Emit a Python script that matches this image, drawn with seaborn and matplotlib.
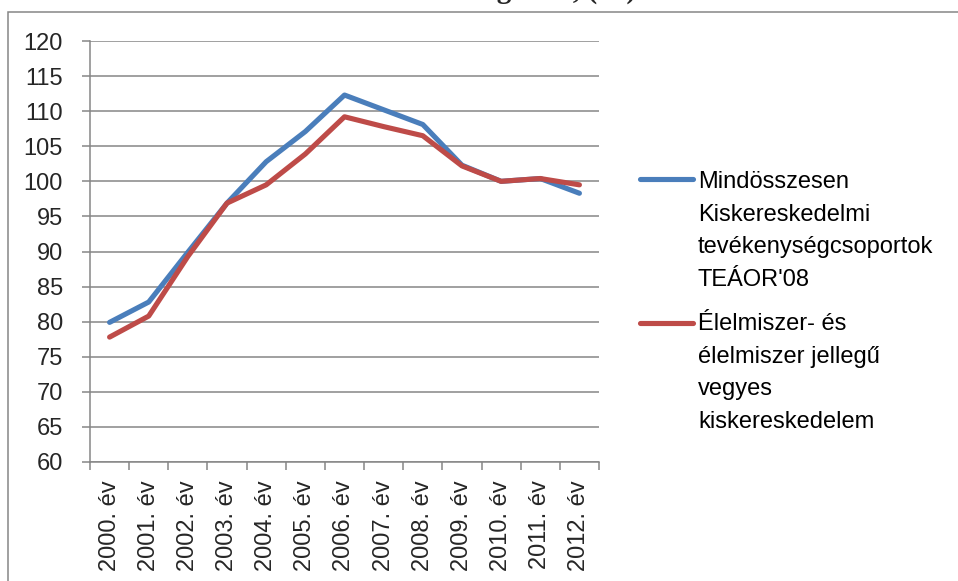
import numpy as np
import pandas as pd
import matplotlib
matplotlib.use("Agg")
import matplotlib.pyplot as plt
from matplotlib.lines import Line2D
from matplotlib.patches import Rectangle
from matplotlib.ticker import NullFormatter
import seaborn as sns

# ── Adatok ──────────────────────────────────────────────
evek = ["2000. év", "2001. év", "2002. év", "2003. év", "2004. év", "2005. év",
        "2006. év", "2007. év", "2008. év", "2009. év", "2010. év", "2011. év",
        "2012. év"]
mindosszesen = [79.9, 82.8, 89.9, 96.9, 102.8, 107.1, 112.3, 110.2, 108.1,
                102.3, 100.0, 100.4, 98.3]
elelmiszer = [77.8, 80.8, 89.3, 96.9, 99.5, 103.9, 109.2, 107.8, 106.5,
              102.2, 100.0, 100.4, 99.5]
cimkek = ["Mindösszesen\nKiskereskedelmi\ntevékenységcsoportok\nTEÁOR'08",
          "Élelmiszer- és\nélelmiszer jellegű\nvegyes\nkiskereskedelem"]
y_ertekek = list(range(60, 121, 5))
cim = "Kiskereskedelmi forgalom, (%)"

SZINEK = ["#4a7ebb", "#be4b48"]
SZURKE = "#868686"
W, H = 958, 581

sns.set_theme(style="white")
plt.rcParams["font.family"] = ["Liberation Sans", "DejaVu Sans"]


def fx(x):
    return x / W


def fy(y):
    return 1 - y / H


df = pd.DataFrame({
    "ev": evek * 2,
    "ertek": mindosszesen + elelmiszer,
    "sor": [cimkek[0]] * len(evek) + [cimkek[1]] * len(evek),
})

fig = plt.figure(figsize=(W / 100, H / 100), dpi=100, facecolor="white")
ax = fig.add_axes([fx(90), fy(462), fx(599) - fx(90), fy(41) - fy(462)])

sns.lineplot(data=df, x="ev", y="ertek", hue="sor", palette=SZINEK,
             lw=3.7, sort=False, legend=False, ax=ax, solid_capstyle="round")

ax.set_xlim(-0.5, len(evek) - 0.5)
ax.set_ylim(60, 120)
ax.set_yticks(y_ertekek)
ax.set_xlabel("")
ax.set_ylabel("")

# x: osztóvonalak a kategóriák között, feliratok középen
ax.set_xticks(np.arange(-0.5, len(evek), 1))
ax.xaxis.set_major_formatter(NullFormatter())
ax.set_xticks(range(len(evek)), minor=True)
ax.set_xticklabels(evek, minor=True, rotation=90, va="top", ha="center")
ax.tick_params(axis="x", which="major", direction="out", length=6, width=1.1,
               color=SZURKE, bottom=True)
ax.tick_params(axis="x", which="minor", length=0, pad=13, labelsize=17,
               bottom=True)
ax.tick_params(axis="y", direction="out", length=6, width=1.1, color=SZURKE,
               pad=13.5, labelsize=17, left=True)

ax.yaxis.grid(True, color=SZURKE, lw=1.1)
ax.xaxis.grid(False)
ax.set_axisbelow(True)
for s in ["top", "right"]:
    ax.spines[s].set_visible(False)
for s in ["left", "bottom"]:
    ax.spines[s].set_color(SZURKE)
    ax.spines[s].set_linewidth(1.1)

# ── Jelmagyarázat (első sorhoz igazítva) ─────────────────
jel_y = [179, 323]
alap_y = [188, 330]
for cimke, szin, ly, by in zip(cimkek, SZINEK, jel_y, alap_y):
    fig.add_artist(Line2D([fx(640), fx(693)], [fy(ly), fy(ly)], color=szin,
                          lw=3.7, solid_capstyle="round"))
    for j, sor in enumerate(cimke.split("\n")):
        fig.text(fx(698), fy(by + 32.5 * j), sor, va="baseline", ha="left",
                 fontsize=17, color="black")

# ── Keret és levágott cím ────────────────────────────────
fig.add_artist(Rectangle((fx(7.5), -0.1), 1.2, fy(12) + 0.1,
                         transform=fig.transFigure, fill=False,
                         edgecolor=SZURKE, lw=1.1))
fig.text(fx(636), fy(-2), cim, ha="right", va="baseline", fontsize=21,
         fontweight="bold", family=["Liberation Serif", "DejaVu Serif"])

fig.savefig("out.png", dpi=100, facecolor="white")
